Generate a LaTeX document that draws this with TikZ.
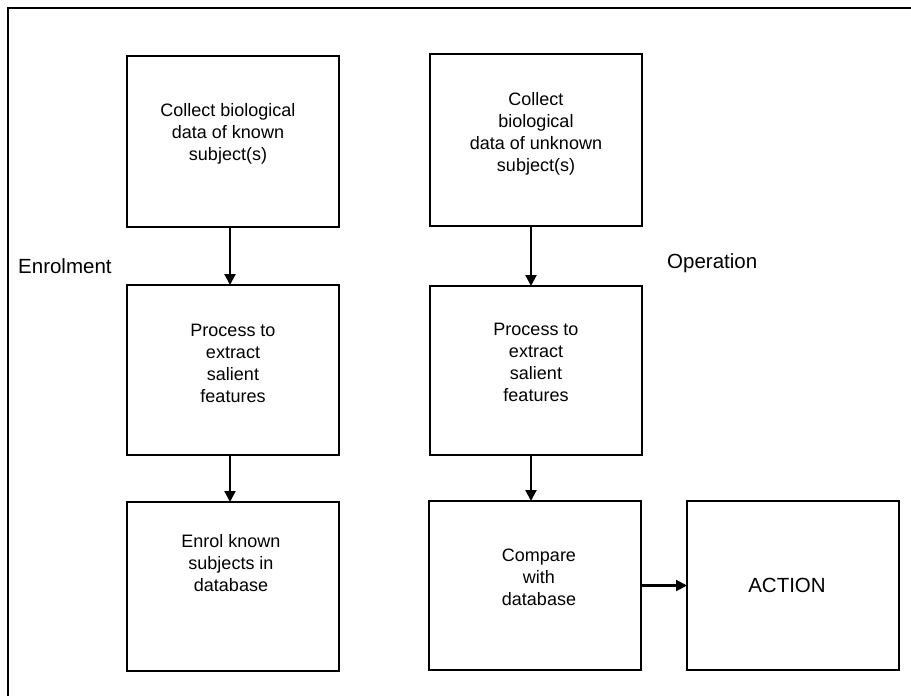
\documentclass[tikz,border=0pt]{standalone}
\usepackage{fontspec}
\setmainfont{Liberation Sans}
\usetikzlibrary{arrows.meta}
\begin{document}
\begin{tikzpicture}[x=1pt,y=-1pt,
  box/.style={draw=black, line width=2.2pt, inner sep=0pt, outer sep=0pt, minimum width=212pt},
  txt/.style={align=center, inner sep=0pt, font=\fontsize{18}{22}\selectfont},
  lbl/.style={inner sep=0pt, anchor=base west, font=\fontsize{20.5}{24}\selectfont},
  arr/.style={line width=2.2pt, -{Triangle[length=11pt,width=11pt]}},
  frame/.style={line width=2.4pt}]
\useasboundingbox (0,0) rectangle (911,696);
% outer frame (only left and top edges visible)
\draw[frame] (8,700) -- (8,8) -- (915,8);
% boxes
\node[box, minimum height=171pt] (b1) at (233,141.5) {};
\node[box, minimum height=172pt] (b2) at (536,140) {};
\node[box, minimum height=170pt] (m1) at (233,370) {};
\node[box, minimum height=169pt] (m2) at (536,370.5) {};
\node[box, minimum height=169pt] (l1) at (233,586.5) {};
\node[box, minimum height=169pt] (l2) at (535,585.5) {};
\node[box, minimum height=169pt] (ac) at (793,585.5) {};
% texts
\node[txt] (tb1) at ([xshift=-5pt,yshift=7.5pt]b1.center) {Collect biological\\data of known\\subject(s)};
\node[txt] (tb2) at ([yshift=6pt]b2.center) {Collect\\biological\\data of unknown\\subject(s)};
\node[txt] (tm1) at ([yshift=7pt]m1.center) {Process to\\extract\\salient\\features};
\node[txt] (tm2) at ([yshift=8pt]m2.center) {Process to\\extract\\salient\\features};
\node[txt] (tl1) at ([xshift=-2pt,yshift=23pt]l1.center) {Enrol known\\subjects in\\database};
\node[txt] (tl2) at ([xshift=4pt,yshift=8pt]l2.center) {Compare\\with\\database};
\node[txt, font=\fontsize{20.5}{24}\selectfont] (tac) at ([xshift=-6pt]ac.center) {ACTION};
\node[lbl] (enr) at (18,273) {Enrolment};
\node[lbl] (op) at (667,268) {Operation};
% arrows
\draw[arr] ([xshift=-3pt]b1.south) -- ([xshift=-3pt]m1.north);
\draw[arr] ([xshift=-3pt]m1.south) -- ([xshift=-3pt]l1.north);
\draw[arr] ([xshift=-5pt]b2.south) -- ([xshift=-5pt]m2.north);
\draw[arr] ([xshift=-5pt]m2.south) -- ([xshift=-4pt]l2.north);
\draw[arr] (l2.east) -- (ac.west);
\end{tikzpicture}
\end{document}
